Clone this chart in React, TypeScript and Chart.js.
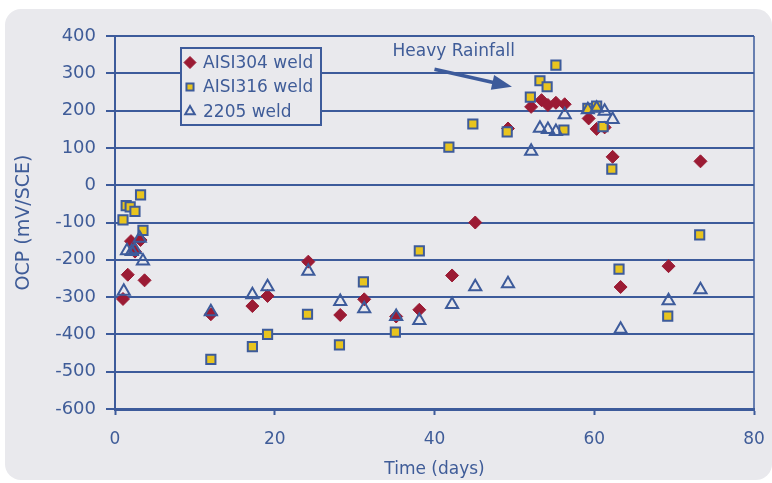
import React, { useEffect, useRef } from "react";
import { Chart, registerables } from "chart.js";
import { drawPoint } from "chart.js/helpers";

Chart.register(...registerables);

// ---- data ----
const seriesNames = ["AISI304 weld", "AISI316 weld", "2205 weld"];

const aisi304Days = [1, 1.6, 2, 2.5, 3.2, 3.7, 12, 17.2, 19.1, 24.2, 28.2, 31.2, 35.2, 38.1, 42.2, 45.1, 49.2, 52.1, 53.4, 54.2, 55.2, 56.3, 59.3, 60.3, 61.3, 62.3, 63.3, 69.3, 73.3];
const aisi304Ocp = [-305, -240, -150, -178, -147, -255, -346, -324, -297, -205, -348, -306, -352, -334, -242, -100, 152, 210, 228, 215, 221, 217, 179, 151, 155, 76, -273, -217, 64];

const aisi316Days = [1, 1.4, 1.9, 2.5, 3.2, 3.5, 12, 17.2, 19.1, 24.1, 28.1, 31.1, 35.1, 38.1, 41.8, 44.8, 49.1, 52, 53.2, 54.1, 55.2, 56.2, 59.2, 60.3, 61.1, 62.2, 63.1, 69.2, 73.2];
const aisi316Ocp = [-93, -55, -58, -70, -26, -121, -467, -433, -400, -346, -428, -259, -394, -176, 102, 164, 143, 236, 280, 264, 322, 148, 206, 212, 157, 43, -225, -351, -133];

const d2205Days = [1.1, 1.5, 2.1, 2.5, 3.1, 3.5, 12, 17.2, 19.1, 24.2, 28.2, 31.2, 35.2, 38.1, 42.2, 45.1, 49.2, 52.1, 53.2, 54.2, 55.2, 56.3, 59.2, 60.3, 61.3, 62.3, 63.3, 69.3, 73.3];
const d2205Ocp = [-284, -176, -178, -173, -142, -203, -339, -294, -272, -231, -312, -331, -352, -363, -320, -272, -264, 91, 153, 149, 144, 189, 202, 206, 198, 176, -386, -310, -280];

const xTicks = [0, 20, 40, 60, 80];
const yTicks = [-600, -500, -400, -300, -200, -100, 0, 100, 200, 300, 400];

const annotationText = "Heavy Rainfall";
const annotationTextAt = { x: 42.4, y: 358 };
const arrowFrom = { x: 40.0, y: 311 };
const arrowTo = { x: 49.7, y: 264 };

// ---- styles ----
const NAVY = "#3d5b9b";
const TEXT = "#3f5c98";
const RED = "#9b1b34";
const YELLOW = "#e8c41e";
const PANEL = "#e9e9ed";
const FONT = "DejaVu Sans";

const pts = (xs: number[], ys: number[]) => xs.map((x, i) => ({ x, y: ys[i] }));

const legendMarkerRadius = [6, 5, 5.5];

const extrasPlugin = {
  id: "extras",
  afterDatasetsDraw(chart: any) {
    const { ctx, chartArea, scales } = chart;
    ctx.save();
    // right frame line
    ctx.strokeStyle = NAVY;
    ctx.lineWidth = 1.5;
    ctx.beginPath();
    ctx.moveTo(chartArea.right, chartArea.top);
    ctx.lineTo(chartArea.right, chartArea.bottom);
    ctx.stroke();

    // legend box
    const bx = 181, by = 48, bw = 140, bh = 77;
    ctx.fillStyle = PANEL;
    ctx.fillRect(bx, by, bw, bh);
    ctx.strokeStyle = NAVY;
    ctx.lineWidth = 2;
    ctx.strokeRect(bx, by, bw, bh);
    ctx.font = `17px "${FONT}"`;
    ctx.textBaseline = "middle";
    ctx.textAlign = "left";
    chart.data.datasets.forEach((ds: any, i: number) => {
      const cy = by + 14.5 + i * 24.5;
      ctx.fillStyle = ds.backgroundColor;
      ctx.strokeStyle = ds.borderColor;
      ctx.lineWidth = ds.borderWidth;
      drawPoint(ctx, { pointStyle: ds.pointStyle, radius: legendMarkerRadius[i], rotation: 0, borderWidth: ds.borderWidth }, bx + 9, cy);
      ctx.fillStyle = TEXT;
      ctx.fillText(ds.label, bx + 22, cy + 1);
    });

    // annotation
    const xs = scales.x, ys = scales.y;
    ctx.fillStyle = TEXT;
    ctx.textAlign = "center";
    ctx.font = `17px "${FONT}"`;
    ctx.fillText(annotationText, xs.getPixelForValue(annotationTextAt.x), ys.getPixelForValue(annotationTextAt.y));
    const x1 = xs.getPixelForValue(arrowFrom.x), y1 = ys.getPixelForValue(arrowFrom.y);
    const x2 = xs.getPixelForValue(arrowTo.x), y2 = ys.getPixelForValue(arrowTo.y);
    const ang = Math.atan2(y2 - y1, x2 - x1);
    const headLen = 20, headW = 7.5;
    const bxp = x2 - headLen * Math.cos(ang), byp = y2 - headLen * Math.sin(ang);
    ctx.strokeStyle = NAVY;
    ctx.lineWidth = 3.5;
    ctx.beginPath();
    ctx.moveTo(x1, y1);
    ctx.lineTo(bxp + 2 * Math.cos(ang), byp + 2 * Math.sin(ang));
    ctx.stroke();
    ctx.fillStyle = NAVY;
    ctx.beginPath();
    ctx.moveTo(x2, y2);
    ctx.lineTo(bxp - headW * Math.sin(ang), byp + headW * Math.cos(ang));
    ctx.lineTo(bxp + headW * Math.sin(ang), byp - headW * Math.cos(ang));
    ctx.closePath();
    ctx.fill();
    ctx.restore();
  },
};

export default function App() {
  const ref = useRef<HTMLCanvasElement>(null);

  useEffect(() => {
    if (!ref.current) return;
    const chart = new Chart(ref.current, {
      type: "scatter",
      data: {
        datasets: [
          {
            label: seriesNames[0],
            data: pts(aisi304Days, aisi304Ocp),
            pointStyle: "rectRot",
            pointRadius: 6.5,
            backgroundColor: RED,
            borderColor: RED,
            borderWidth: 1,
            order: 3,
          },
          {
            label: seriesNames[1],
            data: pts(aisi316Days, aisi316Ocp),
            pointStyle: "rect",
            pointRadius: 6.5,
            backgroundColor: YELLOW,
            borderColor: NAVY,
            borderWidth: 2,
            order: 2,
          },
          {
            label: seriesNames[2],
            data: pts(d2205Days, d2205Ocp),
            pointStyle: "triangle",
            pointRadius: 7,
            backgroundColor: "rgba(0,0,0,0)",
            borderColor: NAVY,
            borderWidth: 2,
            order: 1,
          },
        ] as any,
      },
      options: {
        responsive: false,
        animation: false,
        devicePixelRatio: 1,
        events: [],
        layout: { padding: { left: 0, top: 36, right: 18, bottom: 0 } },
        plugins: {
          legend: { display: false },
          tooltip: { enabled: false },
        },
        scales: {
          x: {
            type: "linear",
            min: 0,
            max: 80,
            afterBuildTicks: (s: any) => {
              s.ticks = xTicks.map((v) => ({ value: v }));
            },
            afterFit: (s: any) => {
              s.height = 74;
              s.paddingLeft = 0;
              s.paddingRight = 0;
            },
            ticks: {
              color: TEXT,
              font: { family: FONT, size: 17 },
              padding: 14,
              maxRotation: 0,
            },
            grid: {
              drawOnChartArea: false,
              drawTicks: true,
              tickLength: 6,
              tickWidth: 2,
              tickColor: NAVY,
              color: NAVY,
            },
            border: { display: true, color: NAVY, width: 3 },
            title: {
              display: true,
              text: "Time (days)",
              color: TEXT,
              font: { family: FONT, size: 17 },
              padding: { top: 2, bottom: 3 },
            },
          },
          y: {
            type: "linear",
            min: -600,
            max: 400,
            afterBuildTicks: (s: any) => {
              s.ticks = yTicks.map((v) => ({ value: v }));
            },
            afterFit: (s: any) => {
              s.width = 115;
              s.paddingTop = 0;
              s.paddingBottom = 0;
            },
            ticks: {
              color: TEXT,
              font: { family: FONT, size: 18 },
              padding: 10,
            },
            grid: {
              drawOnChartArea: true,
              drawTicks: true,
              tickLength: 9,
              color: NAVY,
              lineWidth: 2,
              tickColor: NAVY,
              tickWidth: 2,
            },
            border: { display: true, color: NAVY, width: 2 },
            title: {
              display: true,
              text: "OCP (mV/SCE)",
              color: TEXT,
              font: { family: FONT, size: 19 },
              padding: { top: 13, bottom: 0 },
            },
          },
        },
      } as any,
      plugins: [extrasPlugin],
    });
    return () => chart.destroy();
  }, []);

  return (
    <div style={{ position: "absolute", left: 0, top: 0, width: 772, height: 483, background: "#ffffff" }}>
      <div
        style={{
          position: "absolute",
          left: 5,
          top: 9,
          width: 767,
          height: 471,
          background: PANEL,
          borderRadius: 16,
        }}
      />
      <canvas ref={ref} width={772} height={483} style={{ position: "absolute", left: 0, top: 0, display: "block" }} />
    </div>
  );
}
